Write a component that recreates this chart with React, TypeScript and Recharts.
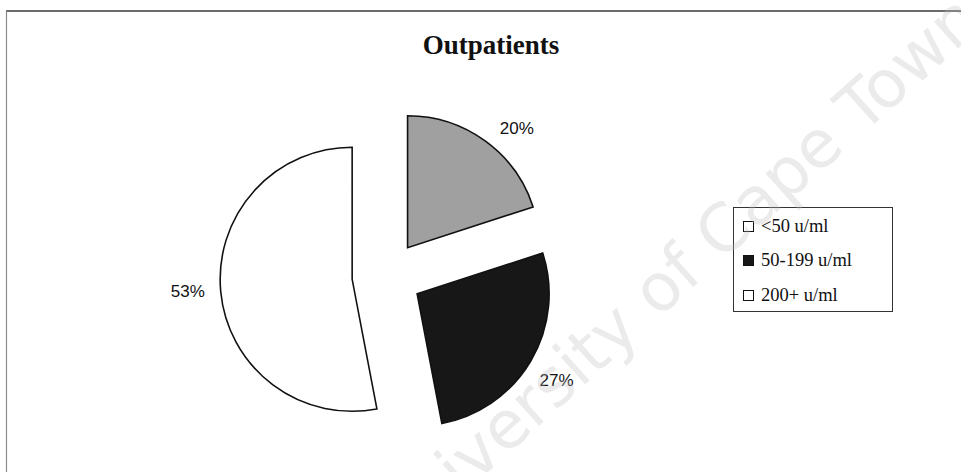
import React from 'react';
import { PieChart, Pie, Cell } from 'recharts';

// Outpatient distribution by level (u/ml)
const categories = ['<50 u/ml', '50-199 u/ml', '200+ u/ml'];
const shares = [20, 27, 53];
const sliceColors = ['#a0a0a0', '#171717', '#ffffff'];
const swatchColors = ['#ffffff', '#171717', '#ffffff'];
const chartTitle = 'Outpatients';
const watermark = 'University of Cape Town';

const data = categories.map((name, i) => ({ name, value: shares[i] }));

const WIDTH = 961;
const HEIGHT = 472;
const CX = 387;
const CY = 276;
const RADIUS = 132;
const EXPLODE = 35;
const LABEL_GAP = 30;
const RAD = Math.PI / 180;
// small hand placement tweaks for the percentage labels (px)
const LABEL_NUDGE: [number, number][] = [
  [14, 12],
  [0, 4],
  [-3, -3],
];

// mid angle of every slice (degrees, counter-clockwise from 3 o'clock), pie starts at 12 o'clock going clockwise
const total = shares.reduce((a, b) => a + b, 0);
const midAngles: number[] = [];
{
  let acc = 0;
  shares.forEach((v) => {
    const start = 90 - (360 * acc) / total;
    acc += v;
    const end = 90 - (360 * acc) / total;
    midAngles.push((start + end) / 2);
  });
}

const makeLabel = (k: number) => (props: any) => {
  const idx = props.index ?? categories.indexOf(props.name);
  if (idx !== k) return <g />;
  const r = props.outerRadius + LABEL_GAP;
  const x = props.cx + r * Math.cos(-props.midAngle * RAD) + LABEL_NUDGE[k][0];
  const y = props.cy + r * Math.sin(-props.midAngle * RAD) + LABEL_NUDGE[k][1];
  return (
    <text
      x={x}
      y={y}
      textAnchor="middle"
      dominantBaseline="central"
      fontFamily="'Liberation Sans', Arial, sans-serif"
      fontSize={17}
      fill="#111"
    >
      {`${shares[k]}%`}
    </text>
  );
};

export default function App() {
  return (
    <div style={{ position: 'absolute', left: 0, top: 0, width: WIDTH, height: HEIGHT, background: '#fff', overflow: 'hidden' }}>
      <svg width={WIDTH} height={HEIGHT} style={{ position: 'absolute', left: 0, top: 0 }}>
        <line x1={6} y1={11} x2={WIDTH} y2={11} stroke="#3a3a3a" strokeWidth={1.5} />
        <line x1={6.5} y1={11} x2={6.5} y2={HEIGHT} stroke="#8a8a8a" strokeWidth={1.2} />
        <text
          x={491}
          y={54}
          textAnchor="middle"
          fontFamily="'Liberation Serif', 'Times New Roman', serif"
          fontWeight="bold"
          fontSize={27}
          fill="#111"
        >
          {chartTitle}
        </text>
      </svg>
      <div style={{ position: 'absolute', left: 0, top: 0 }}>
        <PieChart width={WIDTH} height={HEIGHT} margin={{ top: 0, right: 0, bottom: 0, left: 0 }}>
          {categories.map((_, k) => (
            <Pie
              key={k}
              data={data}
              dataKey="value"
              nameKey="name"
              cx={CX + EXPLODE * Math.cos(midAngles[k] * RAD)}
              cy={CY - EXPLODE * Math.sin(midAngles[k] * RAD)}
              outerRadius={RADIUS}
              startAngle={90}
              endAngle={-270}
              isAnimationActive={false}
              label={makeLabel(k)}
              labelLine={false}
              legendType="none"
            >
              {data.map((d, i) => (
                <Cell
                  key={d.name}
                  fill={i === k ? sliceColors[i] : 'none'}
                  stroke={i === k ? '#111' : 'none'}
                  strokeWidth={1.6}
                />
              ))}
            </Pie>
          ))}
        </PieChart>
      </div>
      <div
        style={{
          position: 'absolute',
          left: 733,
          top: 207,
          width: 160,
          height: 105,
          boxSizing: 'border-box',
          border: '1.5px solid #333',
          background: '#fff',
          fontFamily: "'Liberation Serif', 'Times New Roman', serif",
          fontSize: 18.5,
          color: '#111',
        }}
      >
        {categories.map((c, i) => (
          <div
            key={c}
            style={{ position: 'absolute', left: 9, top: 8 + i * 34.5, height: 20, display: 'flex', alignItems: 'center', whiteSpace: 'nowrap' }}
          >
            <span
              style={{
                display: 'inline-block',
                width: 11,
                height: 11,
                boxSizing: 'border-box',
                border: '1.8px solid #111',
                background: swatchColors[i],
                marginRight: 7,
              }}
            />
            <span>{c}</span>
          </div>
        ))}
      </div>
      <svg width={WIDTH} height={HEIGHT} style={{ position: 'absolute', left: 0, top: 0, pointerEvents: 'none' }}>
        <text
          x={690}
          y={290}
          textAnchor="middle"
          transform="rotate(-42 690 290)"
          fontFamily="'DejaVu Sans', Verdana, sans-serif"
          fontSize={66}
          fill="#bdbdbd"
          fillOpacity={0.3}
        >
          {watermark}
        </text>
      </svg>
    </div>
  );
}
